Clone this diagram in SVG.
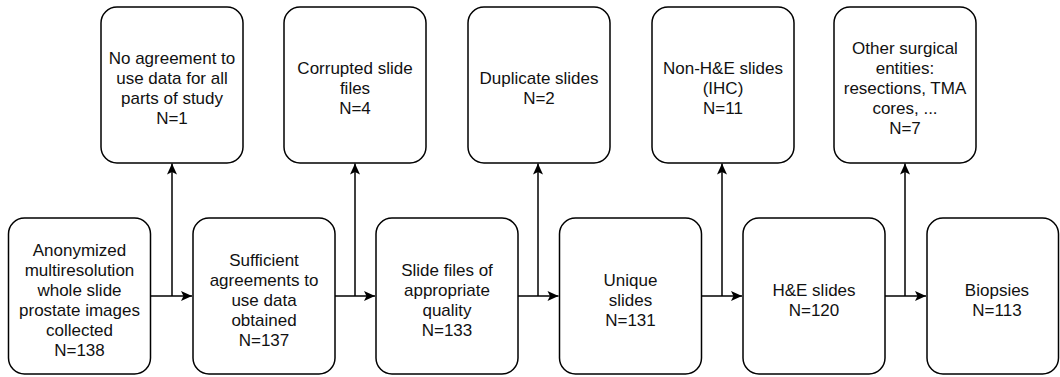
<svg xmlns="http://www.w3.org/2000/svg" width="1060" height="377" viewBox="0 0 1060 377">
<style>
.box{fill:#fff;stroke:#000;stroke-width:1.5}
.t{font-family:"Liberation Sans",Arial,sans-serif;font-size:17px;fill:#111;text-anchor:middle}
.c{fill:none;stroke:#000;stroke-width:1.5}
</style>
<defs>
<marker id="ah" markerUnits="userSpaceOnUse" markerWidth="12" markerHeight="11" refX="11" refY="5" orient="auto" overflow="visible">
<path d="M0,0 L11,5 L0,10 L2.5,5 z" fill="#000"/>
</marker>
</defs>
<rect width="1060" height="377" fill="#fff"/>
<g id="connectors">
<path class="c" d="M151,296 H192" marker-end="url(#ah)"/>
<path class="c" d="M172,296 V163.5" marker-end="url(#ah)"/>
<path class="c" d="M335,296 H375" marker-end="url(#ah)"/>
<path class="c" d="M355,296 V163.5" marker-end="url(#ah)"/>
<path class="c" d="M518,296 H558.5" marker-end="url(#ah)"/>
<path class="c" d="M538,296 V163.5" marker-end="url(#ah)"/>
<path class="c" d="M701.5,296 H742" marker-end="url(#ah)"/>
<path class="c" d="M722,296 V163.5" marker-end="url(#ah)"/>
<path class="c" d="M885,296 H926" marker-end="url(#ah)"/>
<path class="c" d="M905,296 V163.5" marker-end="url(#ah)"/>
</g>
<g id="ex1"><rect class="box" x="101" y="7" width="142" height="156" rx="16"/>
<text class="t"><tspan x="172" y="64">No agreement to</tspan><tspan x="172" y="84">use data for all</tspan><tspan x="172" y="104">parts of study</tspan><tspan x="172" y="124">N=1</tspan></text></g>
<g id="ex2"><rect class="box" x="284" y="7" width="142" height="156" rx="16"/>
<text class="t"><tspan x="355" y="74">Corrupted slide</tspan><tspan x="355" y="94">files</tspan><tspan x="355" y="114">N=4</tspan></text></g>
<g id="ex3"><rect class="box" x="468" y="7" width="142" height="156" rx="16"/>
<text class="t"><tspan x="539" y="84">Duplicate slides</tspan><tspan x="539" y="104">N=2</tspan></text></g>
<g id="ex4"><rect class="box" x="652" y="7" width="142" height="156" rx="16"/>
<text class="t"><tspan x="723" y="74">Non-H&amp;E slides</tspan><tspan x="723" y="94">(IHC)</tspan><tspan x="723" y="114">N=11</tspan></text></g>
<g id="ex5"><rect class="box" x="834" y="7" width="142" height="156" rx="16"/>
<text class="t"><tspan x="905" y="54">Other surgical</tspan><tspan x="905" y="74">entities:</tspan><tspan x="905" y="94">resections, TMA</tspan><tspan x="905" y="114">cores, ...</tspan><tspan x="905" y="134">N=7</tspan></text></g>
<g id="s1"><rect class="box" x="8.5" y="218" width="142" height="156" rx="16"/>
<text class="t"><tspan x="79.5" y="256">Anonymized</tspan><tspan x="79.5" y="276">multiresolution</tspan><tspan x="79.5" y="296">whole slide</tspan><tspan x="79.5" y="316">prostate images</tspan><tspan x="79.5" y="336">collected</tspan><tspan x="79.5" y="356">N=138</tspan></text></g>
<g id="s2"><rect class="box" x="193" y="218" width="142" height="156" rx="16"/>
<text class="t"><tspan x="264" y="266">Sufficient</tspan><tspan x="264" y="286">agreements to</tspan><tspan x="264" y="306">use data</tspan><tspan x="264" y="326">obtained</tspan><tspan x="264" y="346">N=137</tspan></text></g>
<g id="s3"><rect class="box" x="376" y="218" width="142" height="156" rx="16"/>
<text class="t"><tspan x="447" y="276">Slide files of</tspan><tspan x="447" y="296">appropriate</tspan><tspan x="447" y="316">quality</tspan><tspan x="447" y="336">N=133</tspan></text></g>
<g id="s4"><rect class="box" x="559.5" y="218" width="142" height="156" rx="16"/>
<text class="t"><tspan x="630.5" y="286">Unique</tspan><tspan x="630.5" y="306">slides</tspan><tspan x="630.5" y="326">N=131</tspan></text></g>
<g id="s5"><rect class="box" x="743" y="218" width="142" height="156" rx="16"/>
<text class="t"><tspan x="814" y="296">H&amp;E slides</tspan><tspan x="814" y="316">N=120</tspan></text></g>
<g id="s6"><rect class="box" x="927" y="218" width="131.5" height="156" rx="16"/>
<text class="t"><tspan x="997" y="296">Biopsies</tspan><tspan x="997" y="316">N=113</tspan></text></g>
</svg>
